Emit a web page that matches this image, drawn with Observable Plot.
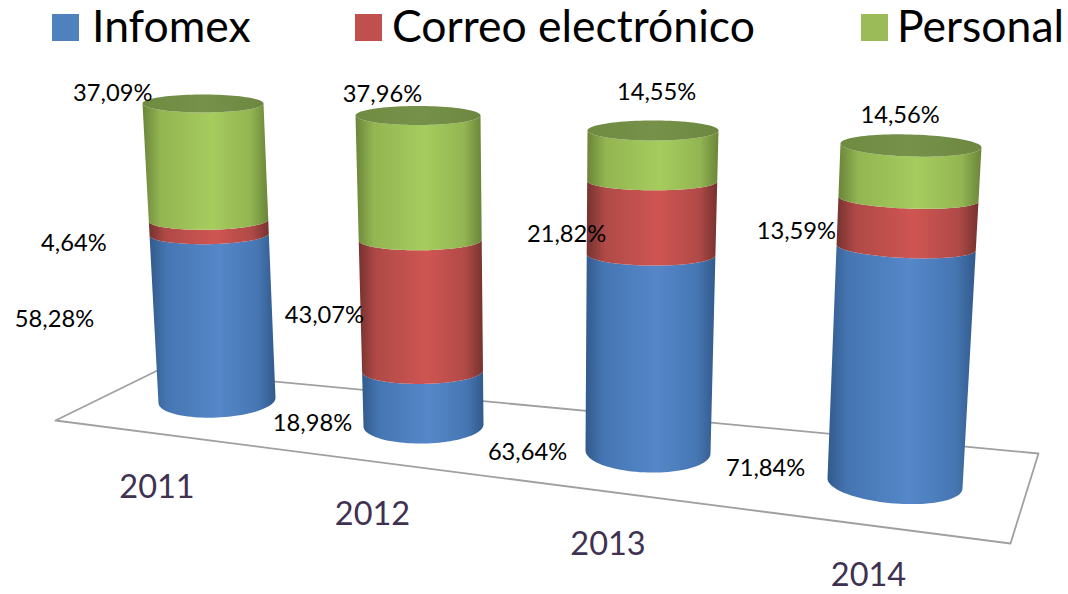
<!DOCTYPE html>
<html><head><meta charset="utf-8">
<script src="https://cdn.jsdelivr.net/npm/d3@7"></script>
<script src="https://cdn.jsdelivr.net/npm/@observablehq/plot@0.6"></script>
<style>
html,body{margin:0;padding:0;background:#fff}
#legend{position:relative;width:1068px;height:60px;font-family:Lato,sans-serif;color:#000}
#legend i{position:absolute;top:14px;width:27px;height:27px}
#legend span{position:absolute;top:-2px;font-size:44.5px;line-height:54px;white-space:nowrap}
svg{display:block}
</style></head><body>
<div id="legend"></div>
<div id="chart"></div>
<script>
// ---- data ----
const years = ["2011", "2012", "2013", "2014"];
const seriesNames = ["Infomex", "Correo electrónico", "Personal"];
const infomex = [58.28, 18.98, 63.64, 71.84];
const correo = [4.64, 43.07, 21.82, 13.59];
const personal = [37.09, 37.96, 14.55, 14.56];

// ---- layout (3D scene, in scene units) ----
const floor = [[55,420],[157,370],[1038,453],[1010,543],[55,420]];
const cylinders = [
  {b:{cx:216.5,rx:58.5,y:400,ry:17,tilt:-2.5}, t:{cx:202.5,rx:60.5,y:103,ry:9,tilt:0}},
  {b:{cx:423,rx:60,y:425,ry:18,tilt:-1}, t:{cx:417.5,rx:62.5,y:115,ry:9.5,tilt:0}},
  {b:{cx:647.5,rx:62.5,y:451.5,ry:20.5,tilt:1.5}, t:{cx:652.5,rx:65.5,y:130,ry:10,tilt:0}},
  {b:{cx:894.5,rx:67.5,y:483,ry:20,tilt:5}, t:{cx:910.5,rx:70.5,y:145,ry:11,tilt:2}}
];
const foreshorten = 1.1;
const innerRingSquash = 0.78;
// label offsets from each segment's centre: per series, per year
const labelNudge = [
  [[-158.6,2],[-110.5,25],[-122,99],[-135,103]],
  [[-135,16],[-97,10],[-85,17],[-111,8]],
  [[-93,-68.5],[-36.6,-83],[4,-63],[-9.6,-56.5]]
];
const yearNudge = [[-60,70],[-51,71],[-40,72.5],[-26.5,72]];
const legendLayout = [{box:52,text:92},{box:355,text:392},{box:861,text:897}];
const palette = [
  {id:"gBlue",  edge:"#325a8c", mid:"#4676b2", light:"#5587c9", flat:"#4f81bd"},
  {id:"gRed",   edge:"#76322f", mid:"#b04a47", light:"#cf5552", flat:"#c0504d"},
  {id:"gGreen", edge:"#6a8539", mid:"#93b552", light:"#a6cc5e", flat:"#9bbb59"}
];

// ---- geometry ----
const seriesValues = [infomex, correo, personal];
const project = f => f / (f + foreshorten * (1 - f));   // perspective along the axis
const lerp = (a, b, t) => a + (b - a) * t;
const ring = (c, t) => {
  const k = {};
  for (const p of ["cx","rx","y","ry","tilt"]) k[p] = lerp(c.b[p], c.t[p], t);
  if (t > 0 && t < 1) k.ry *= innerRingSquash;
  return k;
};
const arc = (r, from, to, n = 48) => d3.range(n + 1).map(i => {
  const a = lerp(from, to, i / n);
  return {x: r.cx + r.rx * Math.cos(a), y: r.y + r.ry * Math.sin(a) + r.tilt * Math.cos(a)};
});

const segments = [[], [], []], caps = [], labels = [], yearLabels = [];
years.forEach((year, yi) => {
  const c = cylinders[yi];
  const total = d3.sum(seriesValues, s => s[yi]);
  let cum = 0;
  seriesValues.forEach((s, si) => {
    const t0 = project(cum / total);
    cum += s[yi];
    const t1 = si === seriesValues.length - 1 ? 1 : project(cum / total);
    const pts = [...arc(ring(c, t0), Math.PI, 0), ...arc(ring(c, t1), 0, Math.PI)];
    pts.forEach(p => segments[si].push({...p, year}));
    const m = ring(c, (t0 + t1) / 2);
    labels.push({
      x: m.cx + labelNudge[si][yi][0], y: m.y + labelNudge[si][yi][1],
      text: s[yi].toFixed(2).replace(".", ",") + "%"
    });
  });
  arc(ring(c, 1), 0, 2 * Math.PI, 96).forEach(p => caps.push({...p, year}));
  yearLabels.push({x: c.b.cx + yearNudge[yi][0], y: c.b.y + c.b.ry + yearNudge[yi][1], text: year});
});

// ---- legend ----
const legend = d3.select("#legend");
seriesNames.forEach((name, i) => {
  legend.append("i").style("left", legendLayout[i].box + "px").style("background", palette[i].flat);
  legend.append("span").style("left", legendLayout[i].text + "px").text(name);
});

// ---- gradients ----
function gradients() {
  const defs = d3.create("svg:g");
  const d = defs.append("defs");
  const addGrad = (id, stops) => {
    const g = d.append("linearGradient").attr("id", id).attr("x1", 0).attr("x2", 1).attr("y1", 0).attr("y2", 0);
    stops.forEach(([o, col]) => g.append("stop").attr("offset", o).attr("stop-color", col));
  };
  palette.forEach(p => addGrad(p.id, [[0,p.edge],[0.14,p.mid],[0.55,p.light],[0.86,p.mid],[1,p.edge]]));
  addGrad("gCap", [[0,"#6f8a41"],[0.5,"#76924a"],[1,"#6d8740"]]);
  return defs.node();
}

// ---- chart ----
const chart = Plot.plot({
  width: 1068, height: 534, margin: 0,
  style: {background: "transparent"},
  x: {domain: [0, 1068], range: [0, 1068], axis: null},
  y: {domain: [60, 594], range: [0, 534], axis: null},
  marks: [
    gradients,
    Plot.line(floor, {x: d => d[0], y: d => d[1], stroke: "#a0a0a0", strokeWidth: 1.8}),
    ...segments.map((pts, i) => Plot.line(pts, {
      x: "x", y: "y", z: "year", fill: `url(#${palette[i].id})`, stroke: "none"
    })),
    Plot.line(caps, {x: "x", y: "y", z: "year", fill: "url(#gCap)", stroke: "none"}),
    Plot.text(labels, {x: "x", y: "y", text: "text", fontSize: 23.7, fontFamily: "Lato", fill: "#000"}),
    Plot.text(yearLabels, {x: "x", y: "y", text: "text", fontSize: 32.5, fontFamily: "Lato", fill: "#3f3151"})
  ]
});
document.getElementById("chart").append(chart);
</script>
</body></html>
